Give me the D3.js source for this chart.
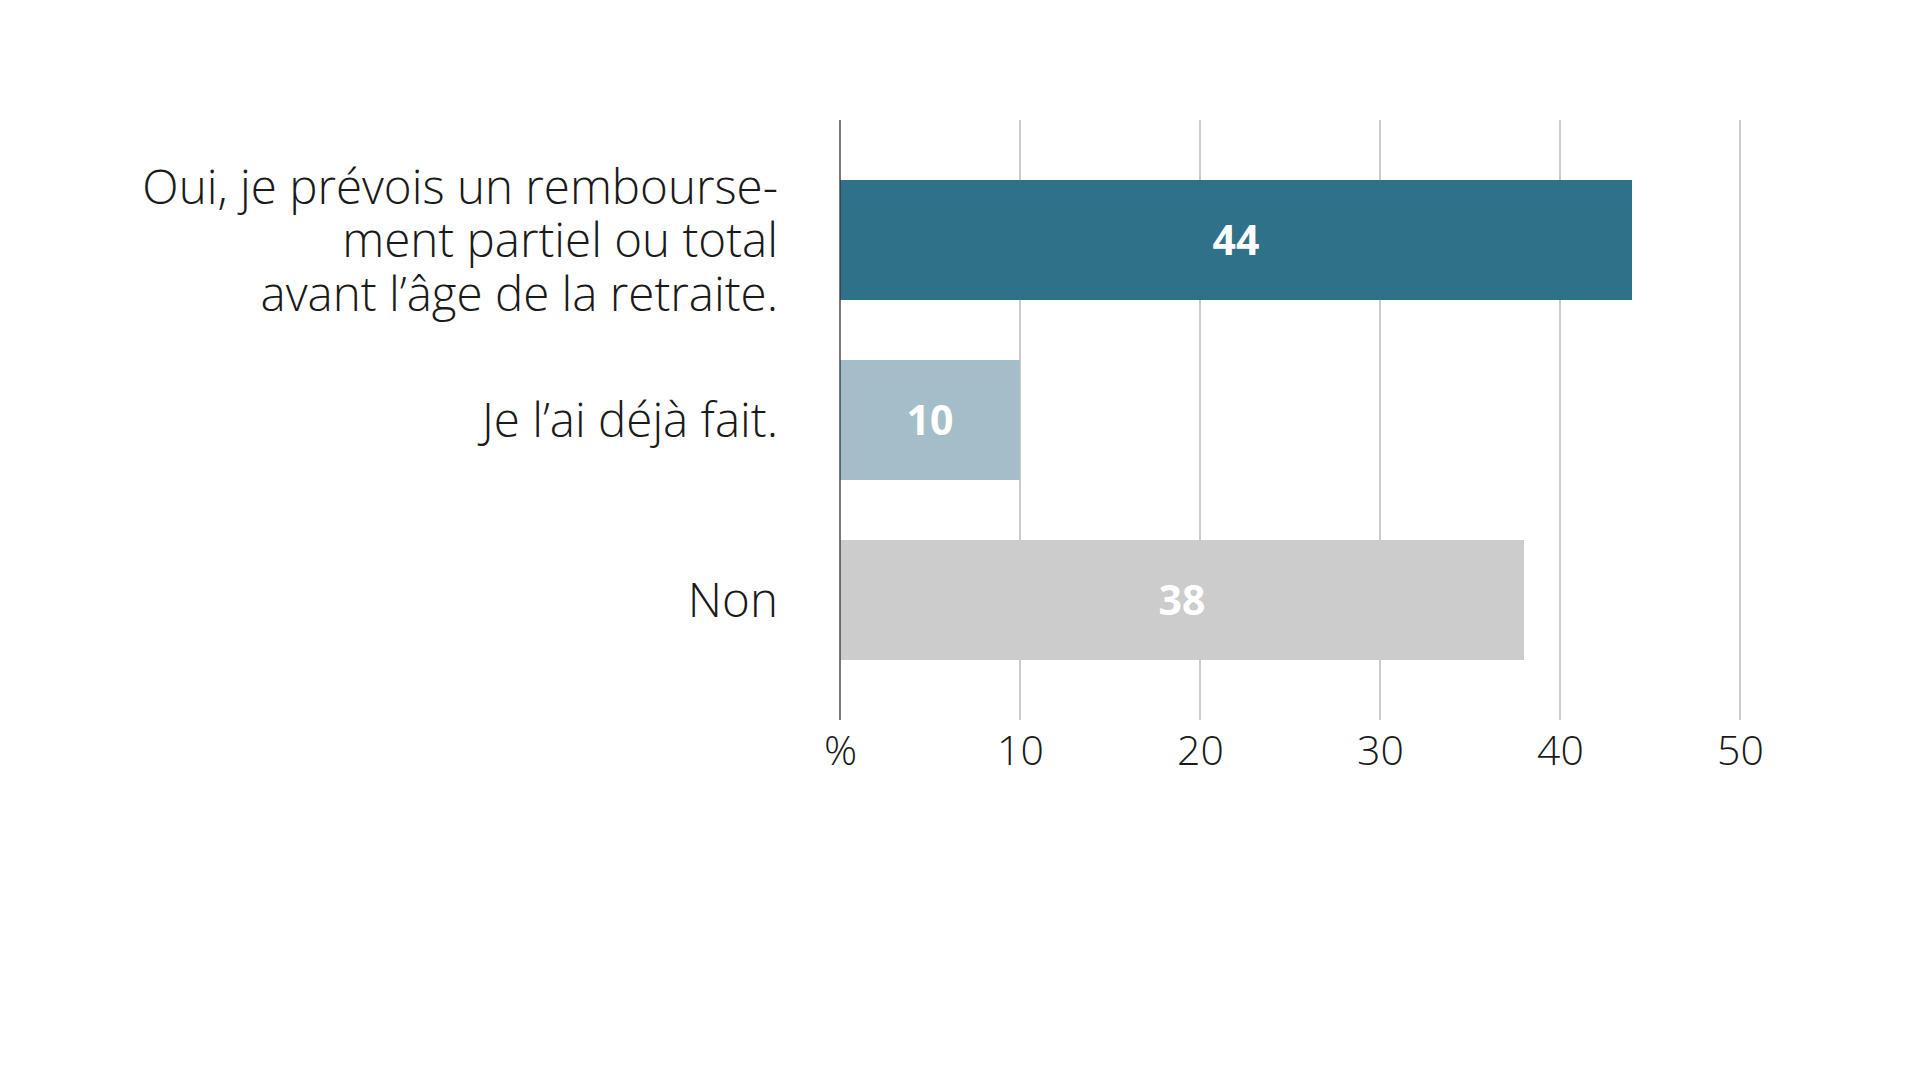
<!DOCTYPE html>
<html>
<head>
<meta charset="utf-8">
<script src="https://cdn.jsdelivr.net/npm/d3@7"></script>
<style>
  html, body { margin: 0; padding: 0; background: #fff; }
  svg { display: block; }
</style>
</head>
<body>
<svg id="chart" width="1920" height="1080"></svg>
<script>
const categories = [
  ["Oui, je prévois un rembourse-", "ment partiel ou total", "avant l’âge de la retraite."],
  ["Je l’ai déjà fait."],
  ["Non"]
];
const values = [44, 10, 38];
const barColors = ["#2e7189", "#a3bec8", "#cccccc"];
const tickValues = [0, 10, 20, 30, 40, 50];
const tickLabels = ["%", "10", "20", "30", "40", "50"];

const svg = d3.select("#chart");
const x = d3.scaleLinear().domain([0, 50]).range([840, 1740]);
const y = d3.scaleBand().domain(d3.range(values.length)).range([120, 720])
  .paddingInner(1 / 3).paddingOuter(1 / 3);

const font = "'Open Sans', sans-serif";

// gridlines
svg.append("g").selectAll("line").data(tickValues.slice(1)).join("line")
  .attr("x1", d => x(d)).attr("x2", d => x(d))
  .attr("y1", 120).attr("y2", 720)
  .attr("stroke", "#bbbbbb").attr("stroke-width", 1.5);

// bars
svg.append("g").selectAll("rect").data(values).join("rect")
  .attr("x", x(0)).attr("y", (d, i) => y(i))
  .attr("width", d => x(d) - x(0)).attr("height", y.bandwidth())
  .attr("fill", (d, i) => barColors[i]);

// zero line
svg.append("line").attr("x1", x(0)).attr("x2", x(0)).attr("y1", 120).attr("y2", 720)
  .attr("stroke", "#333").attr("stroke-width", 1.3);

// value labels
svg.append("g").selectAll("text").data(values).join("text")
  .attr("x", d => (x(0) + x(d)) / 2)
  .attr("y", (d, i) => y(i) + y.bandwidth() / 2)
  .attr("dy", "0.36em").attr("text-anchor", "middle")
  .attr("fill", "#fff").attr("font-family", font).attr("font-weight", 700)
  .attr("font-size", 41).text(d => d);

// category labels
const lineH = 53.5;
svg.append("g").selectAll("text").data(categories).join("text")
  .attr("text-anchor", "end").attr("font-family", font).attr("font-weight", 300)
  .attr("font-size", 47.5).attr("fill", "#1a1a1a")
  .each(function(lines, i) {
    const cy = y(i) + y.bandwidth() / 2;
    const t = d3.select(this);
    lines.forEach((l, j) => {
      t.append("tspan").attr("x", 778)
        .attr("y", cy + (j - (lines.length - 1) / 2) * lineH)
        .attr("dy", "0.36em").text(l);
    });
  });

// axis tick labels
const axis = d3.axisBottom(x).tickValues(tickValues).tickSize(0).tickPadding(0)
  .tickFormat((d, i) => tickLabels[i]);
const ga = svg.append("g").attr("transform", "translate(0,736)").call(axis);
ga.select(".domain").remove();
ga.selectAll("text").attr("font-family", font).attr("font-weight", 300)
  .attr("font-size", 41).attr("fill", "#1a1a1a");
</script>
</body>
</html>
